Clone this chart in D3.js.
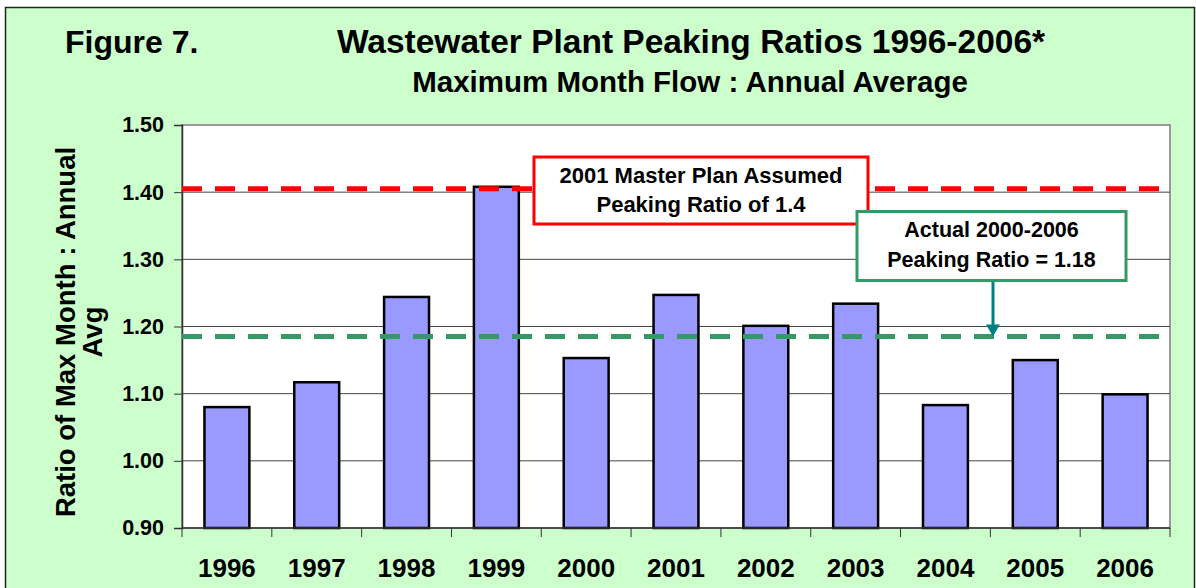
<!DOCTYPE html>
<html>
<head>
<meta charset="utf-8">
<script src="https://cdn.jsdelivr.net/npm/d3@7"></script>
<style>
  body { margin: 0; background: #fff; }
  svg text { font-family: "Liberation Sans", Arial, sans-serif; font-weight: bold; fill: #000; }
</style>
</head>
<body>
<div id="chart"></div>
<script>
// chart data
const years = ['1996', '1997', '1998', '1999', '2000', '2001', '2002', '2003', '2004', '2005', '2006'];
const ratios = [1.080, 1.117, 1.244, 1.408, 1.153, 1.247, 1.201, 1.234, 1.083, 1.150, 1.099];
const yTicks = [0.90, 1.00, 1.10, 1.20, 1.30, 1.40, 1.50];
const planRatio = 1.405;
const actualRatio = 1.185;
const planLabel = ['2001 Master Plan Assumed', 'Peaking Ratio of 1.4'];
const actualLabel = ['Actual 2000-2006', 'Peaking Ratio = 1.18'];

const width = 1196;
const height = 588;
const plotLeft = 182;
const plotRight = 1170;
const plotTop = 125;
const plotBottom = 528;

const svg = d3.select('#chart').append('svg')
  .attr('width', width)
  .attr('height', height);

// outer green frame
svg.append('rect')
  .attr('x', 5.5).attr('y', 7.5)
  .attr('width', 1189).attr('height', 600)
  .attr('fill', '#ccffcc')
  .attr('stroke', '#222')
  .attr('stroke-width', 1.5);

// titles
svg.append('text').attr('x', 65).attr('y', 53)
  .style('font-size', '32px').text('Figure 7.');
svg.append('text').attr('x', 691).attr('y', 53).attr('text-anchor', 'middle')
  .style('font-size', '33.5px').text('Wastewater Plant Peaking Ratios 1996-2006*');
svg.append('text').attr('x', 690).attr('y', 92).attr('text-anchor', 'middle')
  .style('font-size', '29.5px').text('Maximum Month Flow : Annual Average');

var x = d3.scaleBand().domain(years).range([plotLeft, plotRight]).paddingInner(0.5).paddingOuter(0.25);
var y = d3.scaleLinear().domain([0.9, 1.5]).range([plotBottom, plotTop]);

// plot area
svg.append('rect')
  .attr('x', plotLeft).attr('y', plotTop)
  .attr('width', plotRight - plotLeft).attr('height', plotBottom - plotTop)
  .attr('fill', '#fff')
  .attr('stroke', '#999')
  .attr('stroke-width', 2);

svg.append('g').selectAll('line')
  .data(yTicks.slice(1, -1))
  .join('line')
  .attr('x1', plotLeft).attr('x2', plotRight)
  .attr('y1', d => y(d)).attr('y2', d => y(d))
  .attr('stroke', '#444').attr('stroke-width', 1);

// bars
svg.append('g').selectAll('rect')
  .data(ratios)
  .join('rect')
  .attr('x', (d, i) => x(years[i]))
  .attr('y', d => y(d))
  .attr('width', x.bandwidth())
  .attr('height', d => y(0.9) - y(d))
  .attr('fill', '#9999ff')
  .attr('stroke', '#000')
  .attr('stroke-width', 2.5);

// axes
var yAxis = svg.append('g')
  .attr('transform', 'translate(' + plotLeft + ',0)')
  .call(d3.axisLeft(y).tickValues(yTicks).tickFormat(d3.format('.2f')).tickSize(8).tickPadding(10));
yAxis.select('.domain').attr('stroke', '#333').attr('stroke-width', 1.5);
yAxis.selectAll('.tick line').attr('stroke', '#333');
yAxis.selectAll('text').style('font-size', '21.5px').attr('font-family', null);

var boundaries = d3.range(years.length + 1).map(i => plotLeft + i * (plotRight - plotLeft) / years.length);
var xAxis = svg.append('g');
xAxis.append('line')
  .attr('x1', plotLeft).attr('x2', plotRight)
  .attr('y1', plotBottom).attr('y2', plotBottom)
  .attr('stroke', '#333').attr('stroke-width', 1.5);
xAxis.selectAll('.tick')
  .data(boundaries)
  .join('line')
  .attr('x1', d => d).attr('x2', d => d)
  .attr('y1', plotBottom).attr('y2', plotBottom + 9)
  .attr('stroke', '#333');
xAxis.selectAll('text')
  .data(years)
  .join('text')
  .attr('x', d => x(d) + x.bandwidth() / 2)
  .attr('y', 577)
  .attr('text-anchor', 'middle')
  .style('font-size', '26px')
  .text(d => d);

// y axis title
var yTitle = svg.append('text')
  .attr('transform', 'translate(75,332) rotate(-90)')
  .attr('text-anchor', 'middle')
  .style('font-size', '27.5px');
yTitle.append('tspan').attr('x', 0).attr('dy', 0).text('Ratio of Max Month : Annual');
yTitle.append('tspan').attr('x', 0).attr('dy', 27).text('Avg');

// reference lines
svg.append('line')
  .attr('x1', plotLeft).attr('x2', plotRight - 4)
  .attr('y1', y(planRatio)).attr('y2', y(planRatio))
  .attr('stroke', '#ff0000').attr('stroke-width', 5)
  .attr('stroke-dasharray', '20,13');
svg.append('line')
  .attr('x1', plotLeft).attr('x2', plotRight - 4)
  .attr('y1', y(actualRatio)).attr('y2', y(actualRatio))
  .attr('stroke', '#339966').attr('stroke-width', 5)
  .attr('stroke-dasharray', '20,13');

// annotation boxes
function callout(x0, y0, w, h, color, lines, fontSize, baselines) {
  var g = svg.append('g');
  g.append('rect')
    .attr('x', x0).attr('y', y0).attr('width', w).attr('height', h)
    .attr('fill', '#fff').attr('stroke', color).attr('stroke-width', 3);
  g.selectAll('text')
    .data(lines)
    .join('text')
    .attr('x', x0 + w / 2)
    .attr('y', (d, i) => baselines[i])
    .attr('text-anchor', 'middle')
    .style('font-size', fontSize + 'px')
    .text(d => d);
}

callout(534, 157, 334, 67, '#ff0000', planLabel, 22, [183, 212]);

// arrow from green box to actual line
var arrowX = 993;
svg.append('line')
  .attr('x1', arrowX).attr('x2', arrowX)
  .attr('y1', 280).attr('y2', y(actualRatio) - 10)
  .attr('stroke', '#008080').attr('stroke-width', 3);
svg.append('path')
  .attr('d', d3.line()([[arrowX - 7, y(actualRatio) - 12], [arrowX + 7, y(actualRatio) - 12], [arrowX, y(actualRatio)]]) + 'Z')
  .attr('fill', '#008080');

callout(857, 211.5, 269, 69, '#339966', actualLabel, 21.5, [237, 267]);
</script>
</body>
</html>
